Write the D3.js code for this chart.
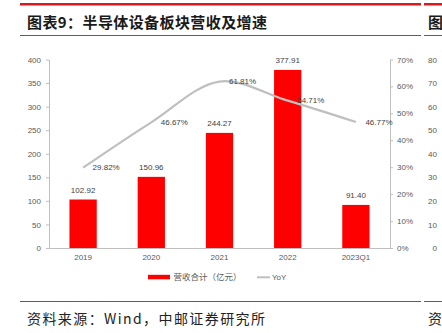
<!DOCTYPE html>
<html><head><meta charset="utf-8">
<script src="https://cdn.jsdelivr.net/npm/d3@7"></script>
<style>
html,body{margin:0;padding:0;background:#fff;}
svg{display:block;}
text{font-family:"Liberation Sans",Arial,sans-serif;}
.cjk{font-family:"Noto Sans CJK SC",sans-serif;}
</style></head>
<body>
<script>
const categories = ["2019","2020","2021","2022","2023Q1"];
const revenue = [102.92,150.96,244.27,377.91,91.40];
const yoy = [29.82,46.67,61.81,54.71,46.77];
const leftTicks = [0,50,100,150,200,250,300,350,400];
const rightTicks = [0,10,20,30,40,50,60,70];
const sideTicks = [0,10,20,30,40,50,60,70,80];
const titleText = "图表9：半导体设备板块营收及增速";
const sourceText = "资料来源：Wind，中邮证券研究所";
const legendBar = "营收合计（亿元）";
const legendLine = "YoY";

const W=442,H=333;
const svg=d3.select("body").append("svg").attr("width",W).attr("height",H);
const red="#d8191f", gray="#595959", axisC="#bfbfbf";

// header & footer rules
svg.append("rect").attr("x",20).attr("y",3).attr("width",401).attr("height",2.5).attr("fill",red);
svg.append("rect").attr("x",424).attr("y",3).attr("width",18).attr("height",2.5).attr("fill",red);
svg.append("rect").attr("x",20).attr("y",35).attr("width",401).attr("height",1).attr("fill","#c9302c");
svg.append("rect").attr("x",424).attr("y",35).attr("width",18).attr("height",1).attr("fill","#c9302c");
svg.append("rect").attr("x",20).attr("y",301).attr("width",401).attr("height",1).attr("fill","#c9302c");
svg.append("rect").attr("x",424).attr("y",301).attr("width",18).attr("height",1).attr("fill","#c9302c");

svg.append("text").attr("class","cjk").attr("x",27).attr("y",27.5).attr("font-size",15).attr("font-weight",700)
  .attr("fill","#1a1a1a").attr("textLength",240).attr("lengthAdjust","spacing").text(titleText);
svg.append("text").attr("class","cjk").attr("x",428).attr("y",27.5).attr("font-size",15).attr("font-weight",700)
  .attr("fill","#1a1a1a").text(titleText[0]);
svg.append("text").attr("class","cjk").attr("x",27).attr("y",323.5).attr("font-size",14)
  .attr("fill","#222").attr("textLength",238).attr("lengthAdjust","spacing").text(sourceText);
svg.append("text").attr("class","cjk").attr("x",428).attr("y",323.5).attr("font-size",14)
  .attr("fill","#222").text(sourceText[0]);

// scales
const x=d3.scaleBand().domain(categories).range([49,390]).paddingInner(0.6).paddingOuter(0.3);
const yL=d3.scaleLinear().domain([0,400]).range([248,59.5]);
const yR=d3.scaleLinear().domain([0,70]).range([248,59.5]);
const yS=d3.scaleLinear().domain([0,80]).range([248,59.5]);

function styleAxis(g){
  g.selectAll(".domain").attr("stroke",axisC).attr("stroke-width",1);
  g.selectAll(".tick line").attr("stroke",axisC);
  g.selectAll("text").attr("fill",gray).attr("font-size",8).attr("font-family","Liberation Sans, Arial, sans-serif");
}
const gL=svg.append("g").attr("transform","translate(49,0)")
  .call(d3.axisLeft(yL).tickValues(leftTicks).tickSize(3).tickSizeOuter(0).tickPadding(5).tickFormat(d3.format("d")));
styleAxis(gL);
const gR=svg.append("g").attr("transform","translate(390,0)")
  .call(d3.axisRight(yR).tickValues(rightTicks).tickSize(3).tickSizeOuter(0).tickPadding(4).tickFormat(d=>d+"%"));
styleAxis(gR);
const gS=svg.append("g").attr("transform","translate(437,0)")
  .call(d3.axisLeft(yS).tickValues(sideTicks).tickSize(0).tickPadding(0).tickFormat(d3.format("d")));
styleAxis(gS); gS.select(".domain").remove();
const gX=svg.append("g").attr("transform","translate(0,248)")
  .call(d3.axisBottom(x).tickSize(0).tickSizeOuter(0).tickPadding(6.5));
styleAxis(gX);

// bars
svg.append("g").selectAll("rect").data(categories).join("rect")
  .attr("x",d=>x(d)).attr("width",x.bandwidth())
  .attr("y",(d,i)=>yL(revenue[i])).attr("height",(d,i)=>yL(0)-yL(revenue[i]))
  .attr("fill","#ff0000");
svg.append("g").selectAll("text").data(categories).join("text")
  .attr("x",d=>x(d)+x.bandwidth()/2).attr("y",(d,i)=>yL(revenue[i])-6.5)
  .attr("text-anchor","middle").attr("font-size",8).attr("fill","#404040")
  .text((d,i)=>revenue[i].toFixed(2));

// line
const pts=categories.map((d,i)=>[x(d)+x.bandwidth()/2,yR(yoy[i])]);
svg.append("path").attr("d",d3.line().curve(d3.curveCatmullRom.alpha(0.5))(pts))
  .attr("fill","none").attr("stroke","#bfbfbf").attr("stroke-width",2.2);
svg.append("g").selectAll("text").data(categories).join("text")
  .attr("x",(d,i)=>pts[i][0]+9.5).attr("y",(d,i)=>pts[i][1]).attr("dy","0.35em")
  .attr("font-size",8).attr("fill","#404040")
  .text((d,i)=>yoy[i].toFixed(2)+"%");

// legend
svg.append("rect").attr("x",148).attr("y",274.8).attr("width",22).attr("height",4.5).attr("fill","#ff0000");
svg.append("text").attr("class","cjk").attr("x",173.5).attr("y",277.3).attr("dy","0.35em")
  .attr("font-size",8.5).attr("fill",gray).text(legendBar);
svg.append("line").attr("x1",257).attr("x2",270).attr("y1",277.3).attr("y2",277.3)
  .attr("stroke","#bfbfbf").attr("stroke-width",2);
svg.append("text").attr("x",272).attr("y",277.3).attr("dy","0.35em")
  .attr("font-size",8).attr("fill",gray).text(legendLine);
</script>
</body></html>
